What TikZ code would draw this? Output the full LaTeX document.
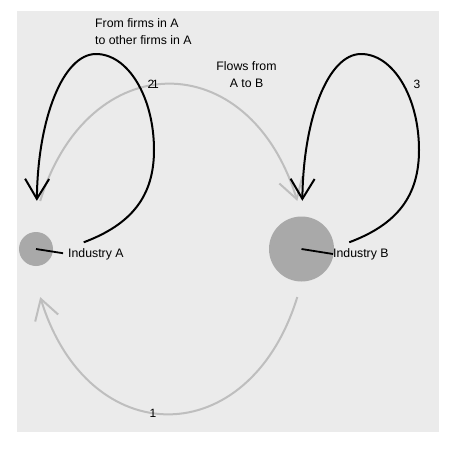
\documentclass[tikz,border=0pt]{standalone}
\usepackage{fontspec}
\setmainfont{Liberation Sans}
\usepackage{xcolor}
\usepackage{tikz}
\usetikzlibrary{arrows.meta}

\definecolor{panelgray}{HTML}{EBEBEB}
\definecolor{nodegray}{HTML}{A9A9A9}
\definecolor{edgegray}{HTML}{BEBEBE}

\tikzset{
    industry/.style={circle, fill=nodegray, inner sep=0pt},
    ring/.style={circle, minimum size=96pt, inner sep=0pt},
    flowedge/.style={draw=edgegray, line width=2pt, -{Straight Barb[length=20pt, width=24pt]}},
    loopedge/.style={draw=black, line width=2pt, -{Straight Barb[length=20pt, width=24pt]}},
    labline/.style={draw=black, line width=1.8pt},
    weight/.style={font=\fontsize{12}{14}\selectfont, inner sep=0pt},
    tag/.style={font=\fontsize{12.3}{17}\selectfont, inner sep=0pt},
}

\begin{document}
\begin{tikzpicture}[x=1pt, y=-1pt]
    \useasboundingbox (0,0) rectangle (450,450);
    \fill[panelgray] (17,11) rectangle (438.5,432.3);

    % Industries and the rings where their flows start and end
    \node[industry, minimum size=34pt] (A) at (36,249) {};
    \node[industry, minimum size=65pt] (B) at (301.5,249) {};
    \node[ring] (ringA) at (A) {};
    \node[ring] (ringB) at (B) {};

    \coordinate (loopAr) at (154,150);
    \coordinate (loopAt) at (96,54);
    \coordinate (loopBr) at (419,150);
    \coordinate (loopBt) at (361,54);

    % Flows between the industries
    \draw[flowedge] (ringA.85) .. controls +(48,-156) and +(-48,-156) .. (ringB.95);
    \draw[flowedge] (ringB.265) .. controls +(-48,156) and +(48,156) .. (ringA.275);

    % Flows inside each industry
    \draw[loopedge] (ringA.8) .. controls +(48,-18) and +(0,46) .. (loopAr)
        .. controls +(0,-53) and +(32,0) .. (loopAt)
        .. controls +(-33,0) and +(1,-82) .. (ringA.89);
    \draw[loopedge] (ringB.8) .. controls +(48,-18) and +(0,46) .. (loopBr)
        .. controls +(0,-53) and +(32,0) .. (loopBt)
        .. controls +(-33,0) and +(1,-82) .. (ringB.89);

    % Weights
    \node[weight] (wAA) at (151,84) {2};
    \node[weight] (wAB) at (155.5,84) {1};
    \node[weight] (wBB) at (417,84) {3};
    \node[weight] (wBA) at (153,413) {1};

    % Industry labels
    \node[tag, anchor=west] (labA) at (68,254) {Industry A};
    \node[tag, anchor=west] (labB) at (333,254) {Industry B};
    \draw[labline, shorten >=5pt] (A.center) -- (labA.west);
    \draw[labline] (B.center) -- (labB.west);

    % Notes
    \node[tag, align=left, anchor=north west] (noteAA) at (95,18.5) {From firms in A\\to other firms in A};
    \node[tag, align=center, anchor=north] (noteAB) at (246.5,61.5) {Flows from\\A to B};
\end{tikzpicture}
\end{document}
